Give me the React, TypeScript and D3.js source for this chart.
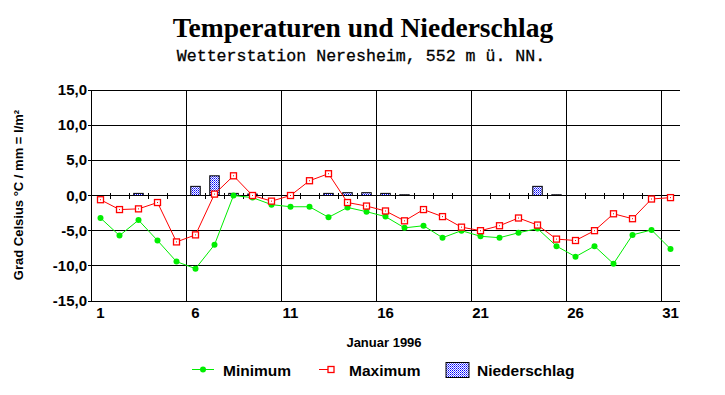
import React from "react";
import * as d3 from "d3";

const days = [1,2,3,4,5,6,7,8,9,10,11,12,13,14,15,16,17,18,19,20,21,22,23,24,25,26,27,28,29,30,31];
const minimum = [-3.2,-5.7,-3.5,-6.4,-9.4,-10.4,-7.0,0.0,-0.3,-1.3,-1.6,-1.6,-3.1,-1.7,-2.3,-3.0,-4.6,-4.3,-6.0,-5.0,-5.8,-6.0,-5.3,-4.7,-7.2,-8.7,-7.2,-9.7,-5.6,-4.9,-7.6];
const maximum = [-0.6,-2.0,-1.9,-1.0,-6.6,-5.6,0.2,2.8,0.0,-0.8,0.0,2.1,3.1,-1.0,-1.5,-2.2,-3.6,-2.0,-3.0,-4.5,-5.0,-4.3,-3.2,-4.2,-6.2,-6.4,-5.0,-2.6,-3.3,-0.5,-0.3];
const niederschlag = [0,0,0.3,0,0,1.3,2.8,0.3,0.2,0,0,0,0.3,0.4,0.4,0.3,0.1,0,0,0,0,0,0,1.3,0.1,0,0,0,0,0,0];
const yTicks = [-15,-10,-5,0,5,10,15];
const xTickLabels = [1,6,11,16,21,26,31];
const xGrid = [5.5,10.5,15.5,20.5,25.5,30.5];

const title = "Temperaturen und Niederschlag";
const subtitle = "Wetterstation Neresheim, 552 m ü. NN.";
const xTitle = "Januar 1996";
const yTitle = "Grad Celsius °C  /  mm = l/m²";

const SANS = "'Liberation Sans', Arial, sans-serif";

export default function App() {
  const left = 91, right = 680, top = 90, bottom = 301;
  const x = d3.scaleLinear().domain([0.5, 31.5]).range([left, right]);
  const y = d3.scaleLinear().domain([-15, 15]).range([bottom, top]);
  const fmt = (v: number) => v.toFixed(1).replace(".", ",");

  const lineMin = d3.line<number>().x((_, i) => x(days[i])).y((v) => y(v))(minimum) || "";
  const lineMax = d3.line<number>().x((_, i) => x(days[i])).y((v) => y(v))(maximum) || "";
  const barW = 9.5;
  const y0 = y(0);
  const zeroTicks = d3.range(1.5, 31, 1);

  return (
    <svg width={725} height={395} style={{ position: "absolute", left: 0, top: 0, background: "#fff" }}>
      <defs>
        <pattern id="dots" width={2} height={2} patternUnits="userSpaceOnUse">
          <rect width={2} height={2} fill="#fff" />
          <rect width={1} height={1} fill="#0000ff" />
          <rect x={1} y={1} width={1} height={1} fill="#6060ff" />
        </pattern>
      </defs>
      <rect width={725} height={395} fill="#fff" />
      <text x={363} y={37} textAnchor="middle" fontFamily="'Liberation Serif', 'Times New Roman', serif" fontWeight="bold" fontSize={27.5}>{title}</text>
      <text x={361} y={61} textAnchor="middle" fontFamily="'Liberation Mono', 'Courier New', monospace" fontSize={16.6} stroke="#000" strokeWidth={0.3}>{subtitle}</text>

      {/* grid */}
      <g stroke="#000" strokeWidth={1} shapeRendering="crispEdges">
        {yTicks.map((t) => (
          <line key={"h" + t} x1={left - 3} x2={right} y1={y(t)} y2={y(t)} />
        ))}
        {xGrid.map((g) => (
          <line key={"v" + g} x1={x(g)} x2={x(g)} y1={top} y2={bottom} />
        ))}
        <line x1={left} x2={left} y1={top} y2={bottom} />
        {zeroTicks.map((t) => (
          <line key={"z" + t} x1={x(t)} x2={x(t)} y1={y0 - 3} y2={y0 + 3} />
        ))}
      </g>

      {/* y tick labels */}
      {yTicks.map((t) => (
        <text key={"yl" + t} x={87} y={y(t) + 5} textAnchor="end" fontFamily={SANS} fontWeight="bold" fontSize={15}>{fmt(t)}</text>
      ))}
      {xTickLabels.map((t) => (
        <text key={"xl" + t} x={x(t)} y={318} textAnchor="middle" fontFamily={SANS} fontWeight="bold" fontSize={15}>{t}</text>
      ))}
      <text x={384} y={347} textAnchor="middle" fontFamily={SANS} fontWeight="bold" fontSize={13}>{xTitle}</text>
      <text transform="translate(23,195) rotate(-90)" textAnchor="middle" fontFamily={SANS} fontWeight="bold" fontSize={13}>{yTitle}</text>

      {/* bars */}
      {niederschlag.map((v, i) =>
        v > 0 ? (
          <rect key={"b" + i} x={x(days[i]) - barW / 2} y={y(v)} width={barW} height={y0 - y(v)} fill="url(#dots)" stroke="#000" strokeWidth={1} />
        ) : null
      )}

      {/* lines */}
      <path d={lineMin} fill="none" stroke="#00ee00" strokeWidth={1} />
      {minimum.map((v, i) => (
        <circle key={"m" + i} cx={x(days[i])} cy={y(v)} r={3} fill="#00ee00" />
      ))}
      <path d={lineMax} fill="none" stroke="#ff0000" strokeWidth={1} />
      {maximum.map((v, i) => (
        <g key={"M" + i}>
          <rect x={x(days[i]) - 3} y={y(v) - 3} width={6} height={6} fill="#fff" stroke="#ff0000" strokeWidth={1.3} />
          <rect x={x(days[i]) - 0.5} y={y(v) - 0.5} width={1} height={1} fill="#ff0000" />
        </g>
      ))}

      {/* legend */}
      <line x1={192} x2={214} y1={369.5} y2={369.5} stroke="#00ee00" strokeWidth={1} />
      <circle cx={203} cy={369.5} r={3} fill="#00ee00" />
      <text x={223} y={376} fontFamily={SANS} fontWeight="bold" fontSize={15.5}>Minimum</text>
      <line x1={319} x2={334} y1={369.5} y2={369.5} stroke="#ff0000" strokeWidth={1} />
      <rect x={328} y={366.5} width={6} height={6} fill="#fff" stroke="#ff0000" strokeWidth={1.3} />
      <text x={349} y={376} fontFamily={SANS} fontWeight="bold" fontSize={15.5}>Maximum</text>
      <rect x={446} y={362.5} width={23} height={15} fill="url(#dots)" stroke="#000" strokeWidth={1} />
      <text x={477} y={376} fontFamily={SANS} fontWeight="bold" fontSize={15.5}>Niederschlag</text>
    </svg>
  );
}
